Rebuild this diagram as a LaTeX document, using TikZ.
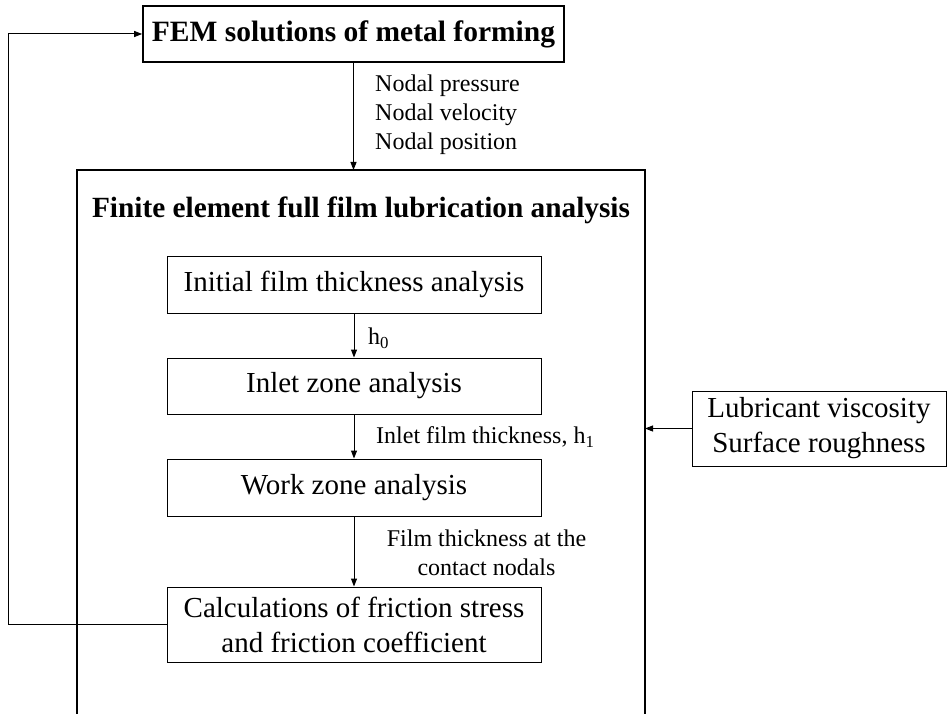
\documentclass[tikz,border=0pt]{standalone}
\usepackage{fontspec}
\setmainfont{Liberation Serif}
\usetikzlibrary{arrows.meta}
\tikzset{
  box/.style={draw, line width=1pt, minimum width=374pt, inner sep=0pt, align=center, font=\fontsize{29}{35}\selectfont},
  thickbox/.style={draw, line width=1.6pt, inner sep=0pt, align=center, font=\bfseries\fontsize{29.5}{35}\selectfont},
  lbl/.style={inner sep=0pt, font=\fontsize{24}{29}\selectfont},
  arr/.style={line width=1pt, -{Triangle[length=8pt,width=6pt]}},
  frame/.style={line width=1.6pt}
}
\begin{document}
\begin{tikzpicture}[x=1pt,y=-1pt]
\useasboundingbox (0,0) rectangle (947,714);
% top box
\node[thickbox, minimum width=421pt, minimum height=56.5pt] (fem) at (353.5,34) {FEM solutions of metal forming};
% big frame (open at bottom)
\coordinate (bigBL) at (77,720);
\coordinate (bigTL) at (77,170);
\coordinate (bigTR) at (645,170);
\coordinate (bigBR) at (645,720);
\draw[frame] (bigBL) -- (bigTL) -- (bigTR) -- (bigBR);
\node[inner sep=0pt, font=\bfseries\fontsize{29.3}{35}\selectfont] (title) at (361,210) {Finite element full film lubrication analysis};
% inner boxes
\node[box, minimum height=57pt] (init) at (354,284.5) {Initial film thickness analysis};
\node[box, minimum height=56pt] (inlet) at (354,386) {Inlet zone analysis};
\node[box, minimum height=57pt] (work) at (354,487.5) {Work zone analysis};
\node[box, minimum height=75pt] (calc) at (354,624.5) {Calculations of friction stress\\and friction coefficient};
% right input box
\node[box, minimum width=254pt, minimum height=75pt] (lub) at (819,428.5) {Lubricant viscosity\\Surface roughness};
% connectors
\draw[arr] (fem.south) -- (fem.south |- bigTL);
\draw[arr] (init.south) -- (inlet.north);
\draw[arr] (inlet.south) -- (work.north);
\draw[arr] (work.south) -- (calc.north);
\draw[arr] (lub.west) -- (lub.west -| bigTR);
\coordinate (fb) at (8,624.5);
\draw[arr] (calc.west) -- (fb) |- (fem.west);
% labels
\node[lbl, anchor=west, align=left] (nodal) at (375,115) {Nodal pressure\\Nodal velocity\\Nodal position};
\node[lbl, anchor=west] (hzero) at (368,338) {h\textsubscript{0}};
\node[lbl, anchor=west] (hone) at (376,437) {Inlet film thickness, h\textsubscript{1}};
\node[lbl, align=center] (film) at (486.5,552.5) {Film thickness at the\\contact nodals};
\end{tikzpicture}
\end{document}
